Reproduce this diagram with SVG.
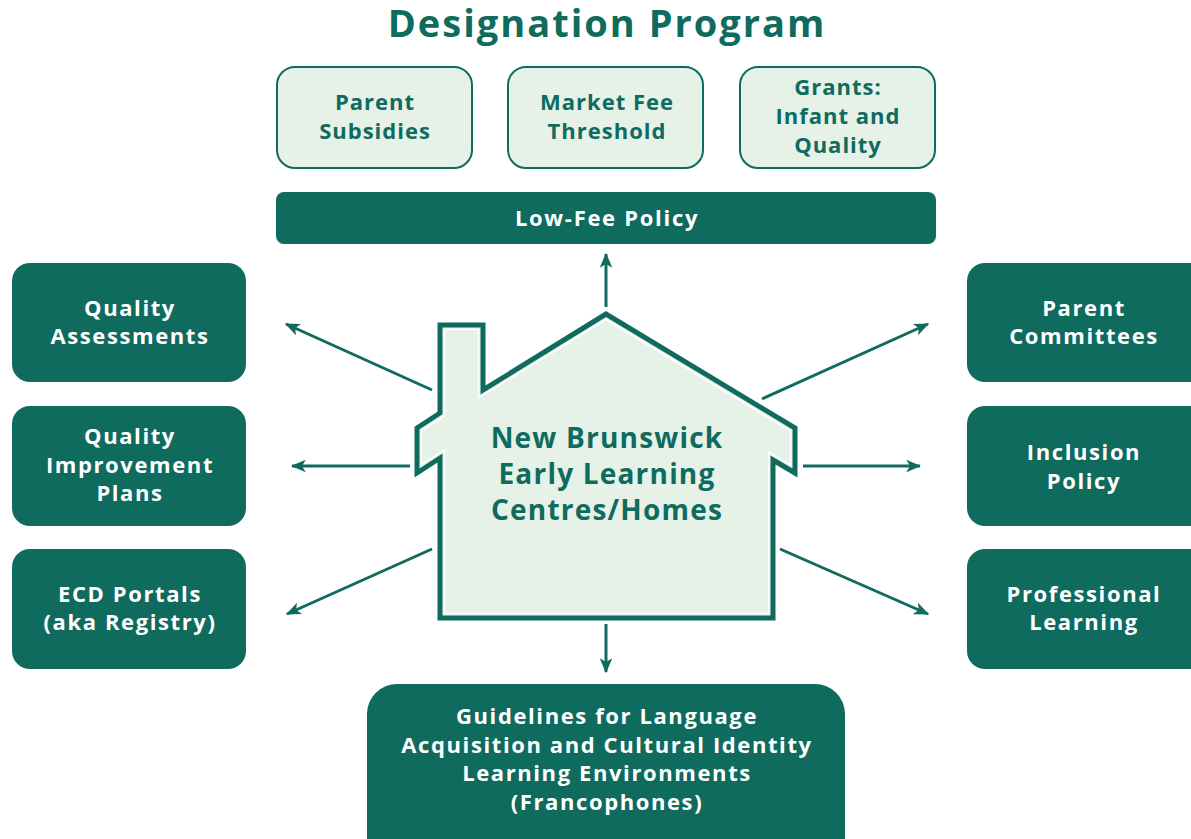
<svg xmlns="http://www.w3.org/2000/svg" width="1191" height="839" viewBox="0 0 1191 839">
<style>
text{font-family:"Open Sans","Noto Sans","Liberation Sans",sans-serif;font-weight:700;text-anchor:middle}
.dk{fill:#0e6b5e}
.lt{fill:#e6f1e8;stroke:#0e6b5e;stroke-width:2}
.wt{fill:#ffffff;font-size:22px;letter-spacing:1.6px}
.gt{fill:#0e6b5e;font-size:22px;letter-spacing:1px}
.ht{fill:#0e6b5e;font-size:28px;letter-spacing:1.2px}
.con{stroke:#0e6b5e;stroke-width:3;fill:none;marker-end:url(#ah)}
</style>
<defs>
<marker id="ah" viewBox="0 0 12 10" refX="11" refY="5" markerWidth="5" markerHeight="4.5" orient="auto" markerUnits="strokeWidth">
<path d="M0,0 L12,5 L0,10 L3,5 Z" fill="#0e6b5e"/>
</marker>
</defs>
<rect width="1191" height="839" fill="#ffffff"/>
<text x="607" y="37" style="font-size:38px;fill:#0e6b5e;letter-spacing:2px">Designation Program</text>

<g id="parent-subsidies"><rect class="lt" x="277" y="67" width="195" height="101" rx="18"/>
<text class="gt" x="375" y="110">Parent</text><text class="gt" x="375" y="139">Subsidies</text></g>
<g id="market-fee"><rect class="lt" x="508" y="67" width="195" height="101" rx="18"/>
<text class="gt" x="607" y="110">Market Fee</text><text class="gt" x="607" y="139">Threshold</text></g>
<g id="grants"><rect class="lt" x="740" y="67" width="195" height="101" rx="18"/>
<text class="gt" x="838" y="95">Grants:</text><text class="gt" x="838" y="124">Infant and</text><text class="gt" x="838" y="153">Quality</text></g>

<g id="low-fee"><rect class="dk" x="276" y="192" width="660" height="52" rx="8"/>
<text class="wt" x="607" y="226" style="letter-spacing:1.7px">Low-Fee Policy</text></g>

<g id="quality-assessments"><rect class="dk" x="12" y="263" width="234" height="119" rx="18"/>
<text class="wt" x="130" y="316">Quality</text><text class="wt" x="130" y="344">Assessments</text></g>
<g id="qip"><rect class="dk" x="12" y="406" width="234" height="120" rx="18"/>
<text class="wt" x="130" y="444">Quality</text><text class="wt" x="130" y="473">Improvement</text><text class="wt" x="130" y="501">Plans</text></g>
<g id="ecd"><rect class="dk" x="12" y="549" width="234" height="120" rx="18"/>
<text class="wt" x="130" y="602">ECD Portals</text><text class="wt" x="130" y="630">(aka Registry)</text></g>

<g id="parent-committees"><rect class="dk" x="967" y="263" width="250" height="119" rx="18"/>
<text class="wt" x="1084" y="316">Parent</text><text class="wt" x="1084" y="344">Committees</text></g>
<g id="inclusion"><rect class="dk" x="967" y="406" width="250" height="120" rx="18"/>
<text class="wt" x="1084" y="460">Inclusion</text><text class="wt" x="1084" y="489">Policy</text></g>
<g id="professional"><rect class="dk" x="967" y="549" width="250" height="120" rx="18"/>
<text class="wt" x="1084" y="602">Professional</text><text class="wt" x="1084" y="630">Learning</text></g>

<g id="guidelines"><rect class="dk" x="367" y="684" width="478" height="190" rx="30"/>
<text class="wt" x="607" y="724">Guidelines for Language</text>
<text class="wt" x="607" y="753">Acquisition and Cultural Identity</text>
<text class="wt" x="607" y="781">Learning Environments</text>
<text class="wt" x="607" y="810">(Francophones)</text></g>

<g id="house">
<path d="M440,325 L483,325 L483,390 L606,314 L795,428 L795,473 L773,460 L773,618 L440,618 L440,458 L417,473 L417,428 L440,413 Z" fill="#e6f1e8" stroke="#0e6b5e" stroke-width="5" stroke-linejoin="miter"/>
<path d="M444.5,329.5 L478.5,329.5 L478.5,398 L606,319.5 L790.5,431 L790.5,465 L768.5,452 L768.5,613.5 L444.5,613.5 L444.5,450 L421.5,464.5 L421.5,430.5 L444.5,416 Z" fill="none" stroke="#ffffff" stroke-width="1.5"/>
<text class="ht" x="607" y="448">New Brunswick</text>
<text class="ht" x="607" y="484">Early Learning</text>
<text class="ht" x="607" y="520">Centres/Homes</text>
</g>

<g id="connectors">
<line class="con" x1="606" y1="307" x2="606" y2="254"/>
<line class="con" x1="606" y1="624" x2="606" y2="672"/>
<line class="con" x1="432" y1="390" x2="286" y2="324"/>
<line class="con" x1="410" y1="466" x2="292" y2="466"/>
<line class="con" x1="432" y1="549" x2="287" y2="614"/>
<line class="con" x1="762" y1="399" x2="928" y2="324"/>
<line class="con" x1="803" y1="466" x2="920" y2="466"/>
<line class="con" x1="780" y1="549" x2="928" y2="614"/>
</g>
</svg>
